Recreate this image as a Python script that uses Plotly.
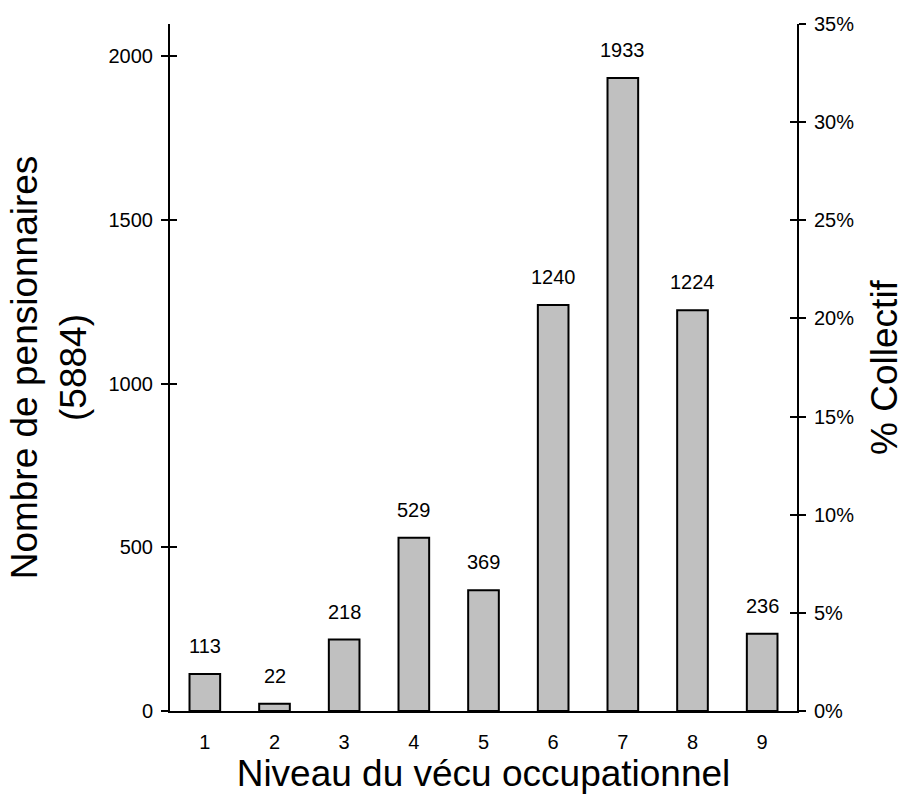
import plotly.graph_objects as go

niveaux = [1, 2, 3, 4, 5, 6, 7, 8, 9]
effectifs = [113, 22, 218, 529, 369, 1240, 1933, 1224, 236]
total = 5884
y_ticks = [0, 500, 1000, 1500, 2000]
pct_ticks = [0, 0.05, 0.10, 0.15, 0.20, 0.25, 0.30, 0.35]
pct_labels = ["0%", "5%", "10%", "15%", "20%", "25%", "30%", "35%"]

FONT = "Liberation Sans, Arial, sans-serif"
Y_RANGE = [0, 2098]
P_RANGE = [0, 0.35]

fig = go.Figure()
fig.add_trace(go.Bar(
    x=niveaux, y=effectifs,
    marker=dict(color="#c0c0c0", line=dict(color="black", width=2)),
    width=0.44, showlegend=False, hoverinfo="x+y",
))
# invisible helper traces so the overlay axes (crossing ticks) render
for ya in ["y2", "y3", "y4"]:
    fig.add_trace(go.Scatter(x=[niveaux[0]], y=[0], yaxis=ya, mode="markers",
                             marker=dict(opacity=0), showlegend=False, hoverinfo="skip"))

for n, v in zip(niveaux, effectifs):
    fig.add_annotation(x=n, y=v, text=str(v), showarrow=False, yanchor="middle",
                       yshift=28, font=dict(size=20, color="black", family=FONT))

fig.update_layout(
    width=906, height=794,
    margin=dict(l=170, r=109, t=24, b=83),
    plot_bgcolor="white", paper_bgcolor="white",
    font=dict(family=FONT, color="black"),
    xaxis=dict(
        type="linear", range=[0.5, 9.5], tickvals=niveaux,
        showline=True, linecolor="black", linewidth=2,
        ticks="outside", ticklen=12, tickcolor="rgba(0,0,0,0)",
        tickfont=dict(size=20), showgrid=False, zeroline=False, automargin=False,
        title=dict(text="Niveau du vécu occupationnel", font=dict(size=37), standoff=8),
    ),
    yaxis=dict(
        range=Y_RANGE, tickvals=y_ticks, ticktext=[str(t) for t in y_ticks],
        showline=True, linecolor="black", linewidth=2,
        ticks="outside", ticklen=7, tickwidth=2, tickcolor="black",
        tickfont=dict(size=20), ticklabelstandoff=4,
        showgrid=False, zeroline=False, automargin=False,
        title=dict(text="Nombre de pensionnaires<br>(5884)", font=dict(size=37), standoff=11),
    ),
    yaxis3=dict(
        range=Y_RANGE, tickvals=y_ticks, overlaying="y", side="left",
        showline=False, ticks="inside", ticklen=7, tickwidth=2, tickcolor="black",
        showticklabels=False, showgrid=False, zeroline=False, automargin=False,
    ),
    yaxis2=dict(
        range=P_RANGE, tickvals=pct_ticks, ticktext=pct_labels,
        overlaying="y", side="right",
        showline=True, linecolor="black", linewidth=2,
        ticks="outside", ticklen=7, tickwidth=2, tickcolor="black",
        tickfont=dict(size=20), ticklabelstandoff=4,
        showgrid=False, zeroline=False, automargin=False,
        title=dict(text="% Collectif", font=dict(size=37), standoff=18),
    ),
    yaxis4=dict(
        range=P_RANGE, tickvals=pct_ticks, overlaying="y", side="right",
        showline=False, ticks="inside", ticklen=7, tickwidth=2, tickcolor="black",
        showticklabels=False, showgrid=False, zeroline=False, automargin=False,
    ),
)

fig.write_html("out.html", config={"displayModeBar": False},
               post_script="document.body.style.margin='0';")
